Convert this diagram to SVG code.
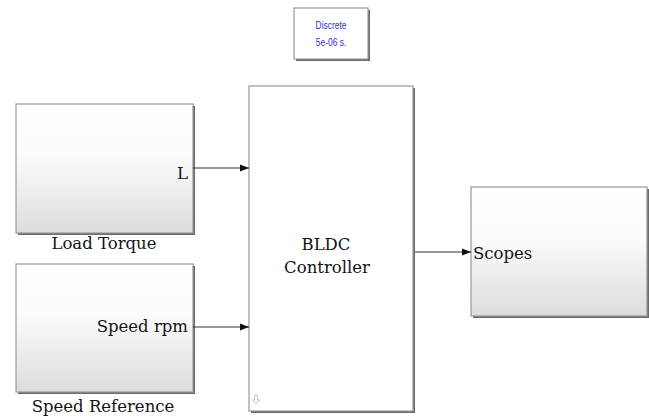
<svg xmlns="http://www.w3.org/2000/svg" width="649" height="416" viewBox="0 0 649 416">
  <defs>
    <linearGradient id="blockFill" x1="0" y1="0" x2="0" y2="1">
      <stop offset="0" stop-color="#ffffff"/>
      <stop offset="0.4" stop-color="#fbfbfb"/>
      <stop offset="1" stop-color="#dcdcdc"/>
    </linearGradient>
    <marker id="arrow" viewBox="0 0 9 8" refX="9" refY="4" markerWidth="9" markerHeight="8" markerUnits="userSpaceOnUse" orient="auto">
      <path d="M0,0.6 L9,4 L0,7.4 Z" fill="#111"/>
    </marker>
  </defs>
  <style>
    .shadow { fill: #6a6a6a; }
    .block { fill: url(#blockFill); stroke: #999999; stroke-width: 1.2; }
    .plain { fill: #ffffff; stroke: #999999; stroke-width: 1.2; }
    .label { font-family: "DejaVu Serif", "Liberation Serif", serif; font-size: 16.5px; fill: #141414; }
    .clock { font-family: "Liberation Sans", Arial, sans-serif; font-size: 10.5px; fill: #2e2ee6; }
    .wire { stroke: #333; stroke-width: 1.2; fill: none; }
  </style>
  <rect width="649" height="416" fill="#ffffff"/>

  <!-- powergui: discrete solver -->
  <g id="powergui">
    <rect class="shadow" x="296" y="10" width="74" height="51"/>
    <rect class="plain" x="294" y="8" width="74" height="51"/>
    <g transform="translate(331,0) scale(0.8,1)">
      <text class="clock" x="0" y="29" text-anchor="middle">Discrete</text>
      <text class="clock" x="0" y="46" text-anchor="middle">5e-06 s.</text>
    </g>
  </g>

  <!-- Load Torque subsystem -->
  <g id="load-torque">
    <rect class="shadow" x="18" y="106" width="177" height="129"/>
    <rect class="block" x="16" y="104" width="177" height="129"/>
    <text class="label" x="188" y="179" text-anchor="end">L</text>
    <text class="label" x="104" y="249" text-anchor="middle">Load Torque</text>
  </g>

  <!-- Speed Reference subsystem -->
  <g id="speed-reference">
    <rect class="shadow" x="18" y="266" width="177" height="128"/>
    <rect class="block" x="16" y="264" width="177" height="128"/>
    <text class="label" x="188" y="332" text-anchor="end">Speed rpm</text>
    <text class="label" x="103" y="412" text-anchor="middle">Speed Reference</text>
  </g>

  <!-- BLDC Controller subsystem -->
  <g id="bldc-controller">
    <rect class="shadow" x="251" y="88" width="164" height="325"/>
    <rect class="plain" x="249" y="86" width="164" height="325"/>
    <text class="label" x="326" y="250" text-anchor="middle">BLDC</text>
    <text class="label" x="327" y="273" text-anchor="middle">Controller</text>
    <!-- connection port glyph -->
    <path d="M254.5,395 h3 v5 h2 l-3.5,4 l-3.5,-4 h2 Z" fill="none" stroke="#c8c8c8" stroke-width="1"/>
  </g>

  <!-- Scopes subsystem -->
  <g id="scopes">
    <rect class="shadow" x="473" y="189" width="176" height="129"/>
    <rect class="block" x="471" y="187" width="176" height="129"/>
    <text class="label" x="473" y="259">Scopes</text>
  </g>

  <!-- signal lines -->
  <g id="connectors">
    <line class="wire" x1="193" y1="168" x2="249" y2="168" marker-end="url(#arrow)"/>
    <line class="wire" x1="193" y1="327" x2="249" y2="327" marker-end="url(#arrow)"/>
    <line class="wire" x1="415" y1="252" x2="471" y2="252" marker-end="url(#arrow)"/>
  </g>
</svg>
